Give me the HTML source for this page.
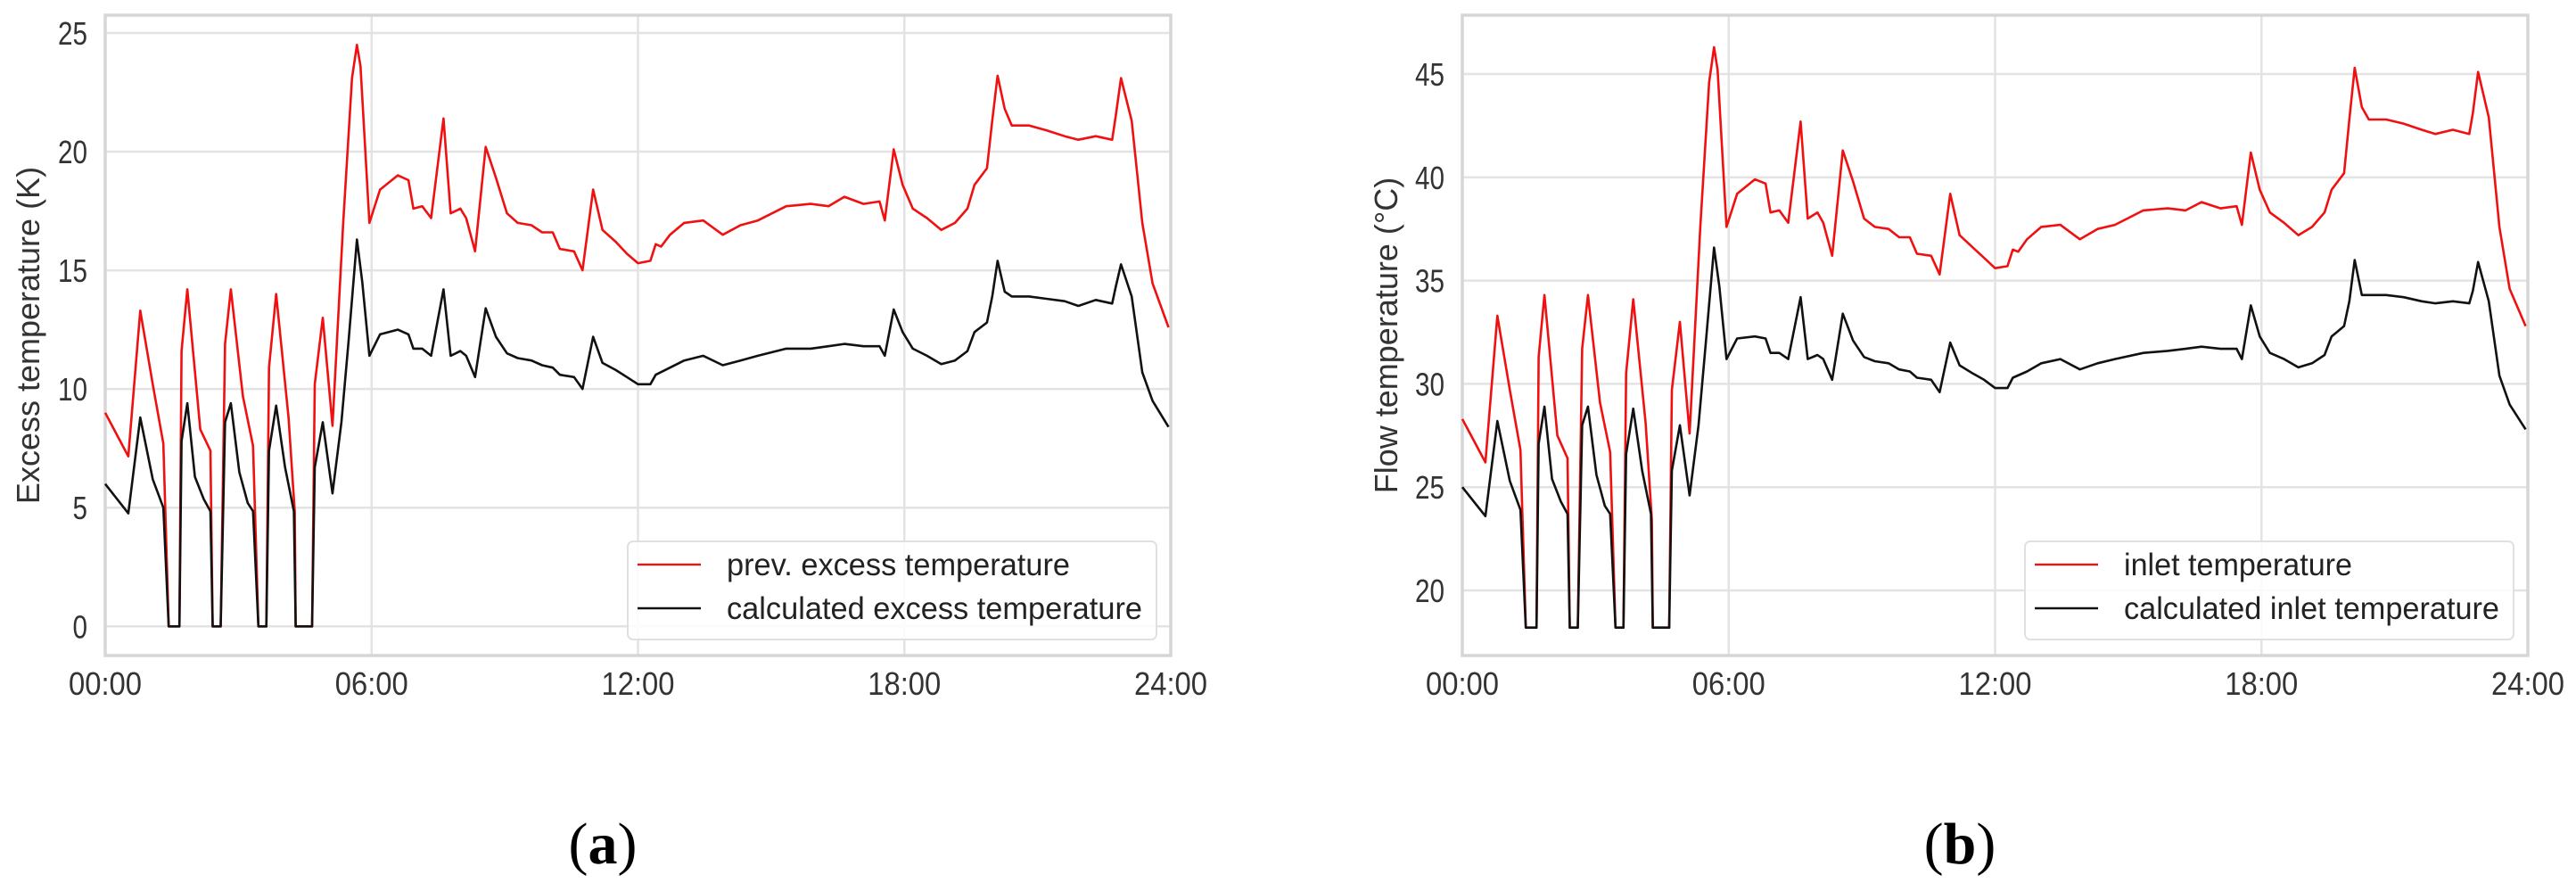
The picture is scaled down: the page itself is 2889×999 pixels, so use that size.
<!DOCTYPE html>
<html><head><meta charset="utf-8"><style>
html,body{margin:0;padding:0;background:#fff;}
svg{display:block;font-family:"Liberation Sans",Arial,sans-serif;}
</style></head><body>
<svg id="fig" width="2889" height="999" viewBox="0 0 2889 999"></svg>
<script>
const hoursRed=[0,0.52,0.79,1.07,1.31,1.43,1.67,1.72,1.85,2.14,2.37,2.42,2.6,2.7,2.83,3.1,3.33,3.45,3.63,3.69,3.85,4.13,4.27,4.29,4.66,4.72,4.9,5.12,5.36,5.56,5.67,5.75,5.95,6.19,6.59,6.83,6.94,7.14,7.34,7.62,7.78,8.0,8.13,8.33,8.57,8.8,9.05,9.29,9.6,9.84,10.08,10.24,10.56,10.75,10.99,11.2,11.5,11.75,12.0,12.28,12.4,12.52,12.72,13.04,13.47,13.91,14.31,14.7,15.34,15.89,16.29,16.65,17.08,17.44,17.56,17.76,17.96,18.19,18.51,18.83,19.14,19.42,19.58,19.86,19.98,20.1,20.26,20.42,20.81,21.2,21.61,21.92,22.31,22.68,22.76,22.88,23.12,23.36,23.59,23.95];
const excessPrev=[9.0,7.16,13.3,10.2,7.7,0,0,11.6,14.2,8.3,7.4,0,0,11.9,14.2,9.7,7.6,0,0,10.9,14.0,8.8,4.8,0,0,10.2,13.0,8.45,17.0,23.1,24.5,23.6,17.0,18.4,19.0,18.8,17.6,17.7,17.2,21.4,17.4,17.6,17.2,15.8,20.2,18.9,17.4,17.0,16.9,16.6,16.6,15.9,15.8,15.0,18.4,16.7,16.2,15.7,15.3,15.4,16.1,16.0,16.5,17.0,17.1,16.5,16.9,17.1,17.7,17.8,17.7,18.1,17.8,17.9,17.1,20.1,18.6,17.6,17.2,16.7,17.0,17.6,18.6,19.3,21.3,23.2,21.8,21.1,21.1,20.9,20.65,20.5,20.65,20.5,21.5,23.1,21.3,17.0,14.45,12.6];
const inletMeas=[28.3,26.2,33.3,29.7,26.8,18.2,18.2,31.3,34.3,27.5,26.4,18.2,18.2,31.7,34.3,29.1,26.7,18.2,18.2,30.5,34.1,28.1,23.4,18.2,18.2,29.7,33.0,27.6,37.6,44.6,46.3,45.2,37.6,39.2,39.9,39.7,38.3,38.4,37.8,42.7,38.0,38.3,37.8,36.2,41.3,39.8,38.0,37.6,37.5,37.1,37.1,36.3,36.2,35.3,39.2,37.2,36.6,36.1,35.6,35.7,36.5,36.4,37.0,37.6,37.7,37.0,37.5,37.7,38.4,38.5,38.4,38.8,38.5,38.6,37.7,41.2,39.4,38.3,37.8,37.2,37.6,38.3,39.4,40.2,42.8,45.3,43.4,42.8,42.8,42.6,42.3,42.1,42.3,42.1,43.1,45.1,42.9,37.6,34.6,32.8];
const hoursBlack=[0,0.52,0.79,1.07,1.31,1.43,1.67,1.72,1.85,2.02,2.22,2.37,2.42,2.6,2.7,2.83,3.02,3.21,3.33,3.45,3.63,3.69,3.85,4.05,4.25,4.29,4.66,4.72,4.9,5.12,5.32,5.48,5.67,5.79,5.95,6.19,6.59,6.83,6.94,7.14,7.34,7.62,7.78,8.0,8.13,8.33,8.57,8.8,9.05,9.29,9.6,9.84,10.08,10.24,10.56,10.75,10.99,11.2,11.5,11.75,12.0,12.28,12.4,12.72,13.04,13.47,13.91,14.31,14.7,15.34,15.89,16.29,16.65,17.08,17.44,17.56,17.76,17.96,18.19,18.51,18.83,19.14,19.42,19.58,19.86,19.98,20.1,20.26,20.42,20.81,21.2,21.61,21.92,22.31,22.68,22.76,22.88,23.12,23.36,23.59,23.95];
const excessCalc=[6.0,4.76,8.8,6.2,5.0,0,0,7.8,9.4,6.3,5.36,4.85,0,0,8.6,9.4,6.5,5.2,4.85,0,0,7.4,9.3,6.7,4.85,0,0,6.7,8.6,5.6,8.6,12.0,16.3,14.5,11.4,12.3,12.5,12.3,11.7,11.7,11.4,14.2,11.4,11.6,11.4,10.5,13.4,12.2,11.5,11.3,11.2,11.0,10.9,10.6,10.5,10.0,12.2,11.1,10.8,10.5,10.2,10.2,10.6,10.9,11.2,11.4,11.0,11.2,11.4,11.7,11.7,11.8,11.9,11.8,11.8,11.4,13.35,12.4,11.7,11.4,11.05,11.2,11.6,12.4,12.8,13.9,15.4,14.1,13.9,13.9,13.8,13.7,13.5,13.75,13.6,14.3,15.25,13.9,10.7,9.5,8.4];
const inletCalc=[25.0,23.6,28.2,25.3,23.9,18.2,18.2,27.1,28.9,25.4,24.3,23.7,18.2,18.2,28.0,28.9,25.6,24.1,23.7,18.2,18.2,26.6,28.8,25.8,23.7,18.2,18.2,25.8,28.0,24.6,28.0,31.9,36.6,34.7,31.2,32.2,32.3,32.2,31.5,31.5,31.2,34.2,31.2,31.4,31.2,30.2,33.4,32.1,31.3,31.1,31.0,30.7,30.6,30.3,30.2,29.6,32.0,30.9,30.5,30.2,29.8,29.8,30.3,30.6,31.0,31.2,30.7,31.0,31.2,31.5,31.6,31.7,31.8,31.7,31.7,31.2,33.8,32.3,31.5,31.2,30.8,31.0,31.4,32.3,32.8,34.0,36.0,34.3,34.3,34.3,34.2,34.0,33.9,34.0,33.9,34.5,35.9,34.0,30.4,29.0,27.8];
const xTickHours=[0,6,12,18,24];
const xTickLabels=["00:00","06:00","12:00","18:00","24:00"];
const yTicksA=[0,5,10,15,20,25];
const yTicksB=[20,25,30,35,40,45];

const NS="http://www.w3.org/2000/svg";
const svg=document.getElementById('fig');
function mk(tag,attrs,parent){const e=document.createElementNS(NS,tag);for(const k in attrs)e.setAttribute(k,attrs[k]);(parent||svg).appendChild(e);return e;}

function drawPanel(cfg){
  const g=mk('g',{});
  
  
  const L=cfg.left,R=cfg.right,T=17,B=735;
  const xs=h=>L+(h/24)*(R-L);
  const ys=v=>B-(v-cfg.ymin)/(cfg.ymax-cfg.ymin)*(B-T);
  mk('rect',{x:L,y:T,width:R-L,height:B-T,fill:'#fff'},g);
  cfg.yTicks.forEach(v=>{
    const y=ys(v);
    const ln=mk('line',{x1:L,x2:R,y1:y,y2:y,stroke:'#e3e3e3','stroke-width':2.5},g);
    
    
    const s=String(v);
    const t=mk('text',{x:L-20,y:y+13,'text-anchor':'end','font-size':36,fill:'#333',textLength:16.5*s.length,lengthAdjust:'spacingAndGlyphs'},g);
    t.textContent=s;
    
    
  });
  xTickHours.forEach((h,i)=>{
    const x=xs(h);
    const ln=mk('line',{x1:x,x2:x,y1:T,y2:B,stroke:'#e3e3e3','stroke-width':2.5},g);
    
    
    const t=mk('text',{x:x,y:779,'text-anchor':'middle','font-size':36,fill:'#333',textLength:82,lengthAdjust:'spacingAndGlyphs'},g);
    t.textContent=xTickLabels[i];
    
    
  });
  const fr=mk('rect',{x:L,y:T,width:R-L,height:B-T,fill:'none',stroke:'#d6d6d6','stroke-width':3.5},g);
  
  
  const yl=mk('text',{x:0,y:0,'text-anchor':'middle','font-size':36,fill:'#333',transform:`translate(${cfg.ylabX},${(T+B)/2}) rotate(-90)`},g);
  yl.textContent=cfg.ylabel;
  
  
  const series=[[cfg.hRed,cfg.red,'#f01010','red-series'],[cfg.hBlack,cfg.black,'#111','black-series']];
  series.forEach(s=>{
    const d=s[0].map((h,i)=>(i?'L':'M')+xs(h).toFixed(1)+','+ys(s[1][i]).toFixed(1)).join(' ');
    const p=mk('path',{d:d,fill:'none',stroke:s[2],'stroke-width':2.6,'stroke-linejoin':'round'},g);
    
    
  });
  const lg=mk('g',{},g);
  
  
  mk('rect',{x:cfg.legX,y:607,width:R-16-cfg.legX,height:110,rx:6,fill:'rgba(255,255,255,0.85)',stroke:'#e0e0e0','stroke-width':2},lg);
  [[cfg.leg1,'#d02020',633,cfg.leg1W],[cfg.leg2,'#111',682,cfg.leg2W]].forEach(e=>{
    const en=mk('g',{},lg);
    
    
    mk('line',{x1:cfg.legX+11,x2:cfg.legX+82,y1:e[2],y2:e[2],stroke:e[1],'stroke-width':2.6},en);
    const t=mk('text',{x:cfg.legX+111,y:e[2]+12,'font-size':35,fill:'#222',textLength:e[3],lengthAdjust:'spacingAndGlyphs'},en);
    t.textContent=e[0];
  });
  const pl=mk('text',{x:cfg.labX,y:968,'text-anchor':'middle','font-size':66,'font-weight':'normal','font-family':'"Liberation Serif",serif',fill:'#000'},g);
  pl.innerHTML='(<tspan font-weight="bold">'+cfg.lab+'</tspan>)';
  
  
}

drawPanel({name:'chart-a',left:118,right:1313,ymin:-1.23,ymax:25.75,yTicks:yTicksA,ylabX:44,ylabel:'Excess temperature (K)',
  hRed:hoursRed,red:excessPrev,hBlack:hoursBlack,black:excessCalc,legX:704,leg1:'prev. excess temperature',leg2:'calculated excess temperature',leg1W:385,leg2W:466,labX:676,lab:'a'});
drawPanel({name:'chart-b',left:1640,right:2835,ymin:16.85,ymax:47.85,yTicks:yTicksB,ylabX:1567,ylabel:'Flow temperature (°C)',
  hRed:hoursRed,red:inletMeas,hBlack:hoursBlack,black:inletCalc,legX:2271,leg1:'inlet temperature',leg2:'calculated inlet temperature',leg1W:256,leg2W:421,labX:2198,lab:'b'});
</script>
</body></html>
